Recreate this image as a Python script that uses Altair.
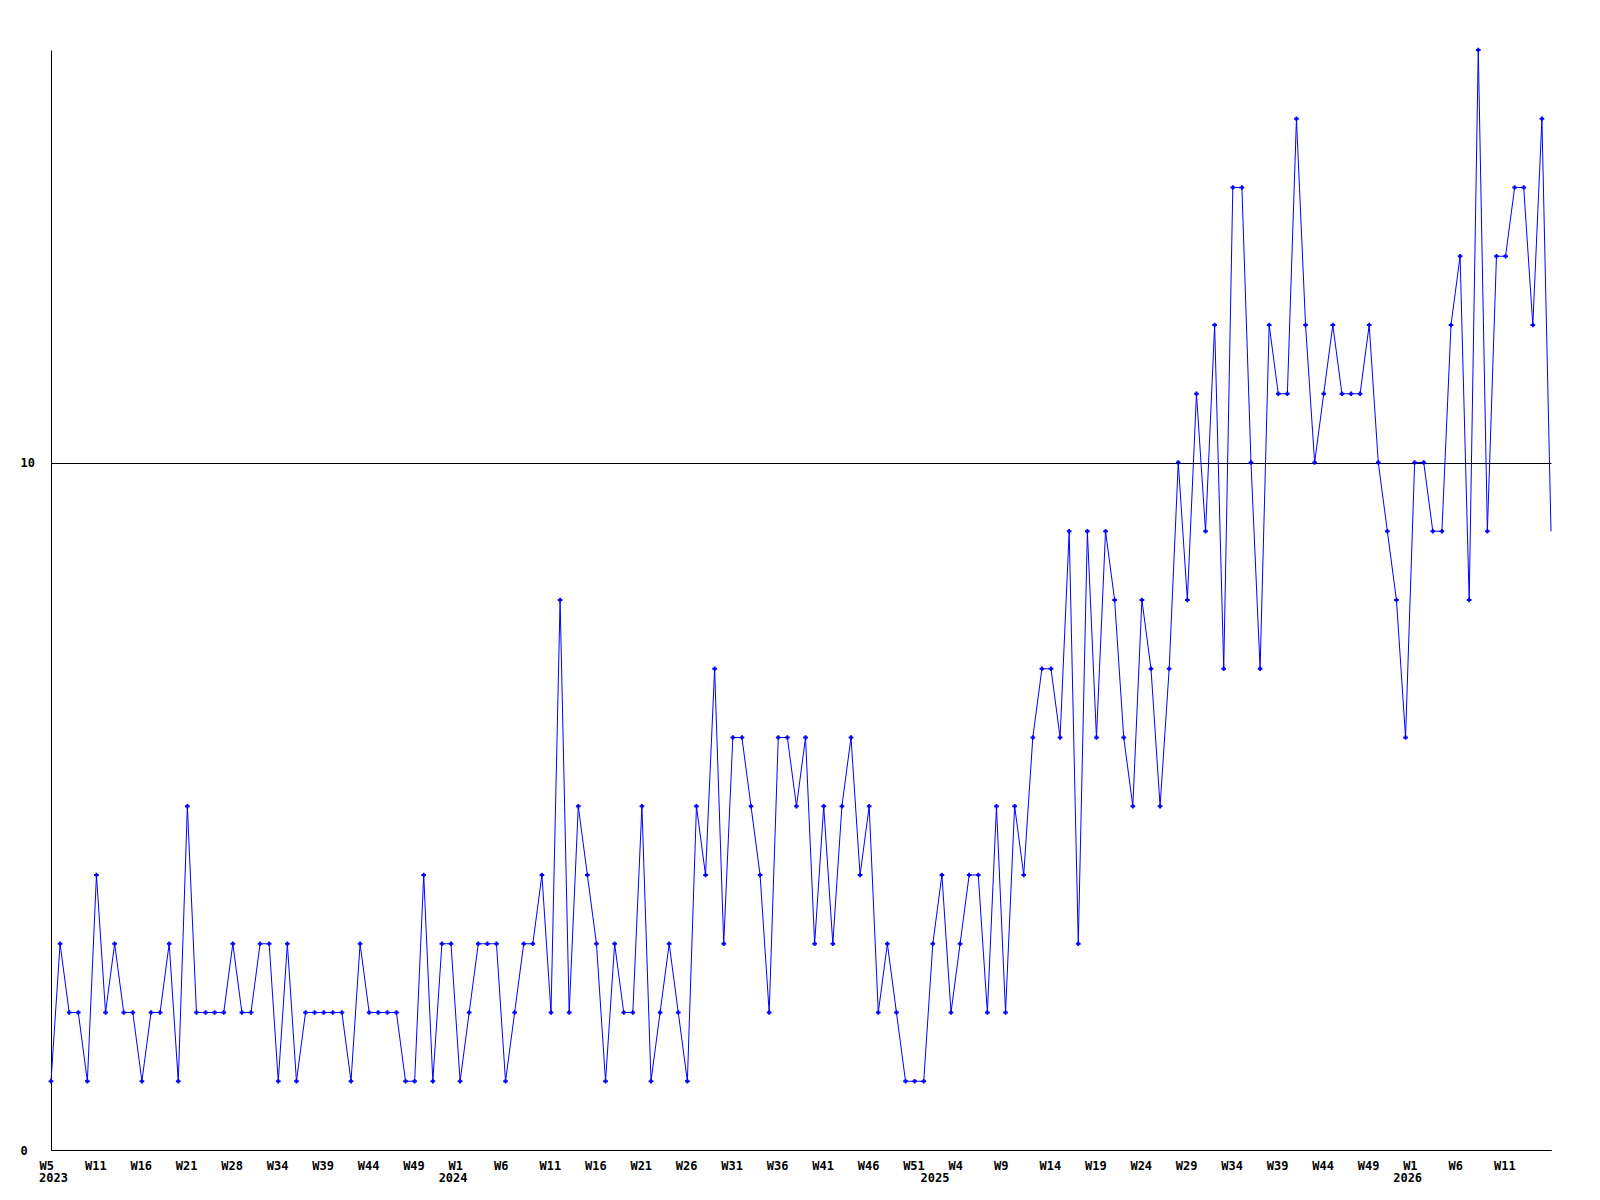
import json
import altair as alt
import pandas as pd

# weekly values, 2023 W5 ... 2026 (166 points)
values = [
    1, 3, 2, 2, 1, 4, 2, 3, 2, 2,
    1, 2, 2, 3, 1, 5, 2, 2, 2, 2,
    3, 2, 2, 3, 3, 1, 3, 1, 2, 2,
    2, 2, 2, 1, 3, 2, 2, 2, 2, 1,
    1, 4, 1, 3, 3, 1, 2, 3, 3, 3,
    1, 2, 3, 3, 4, 2, 8, 2, 5, 4,
    3, 1, 3, 2, 2, 5, 1, 2, 3, 2,
    1, 5, 4, 7, 3, 6, 6, 5, 4, 2,
    6, 6, 5, 6, 3, 5, 3, 5, 6, 4,
    5, 2, 3, 2, 1, 1, 1, 3, 4, 2,
    3, 4, 4, 2, 5, 2, 5, 4, 6, 7,
    7, 6, 9, 3, 9, 6, 9, 8, 6, 5,
    8, 7, 5, 7, 10, 8, 11, 9, 12, 7,
    14, 14, 10, 7, 12, 11, 11, 15, 12, 10,
    11, 12, 11, 11, 11, 12, 10, 9, 8, 6,
    10, 10, 9, 9, 12, 13, 8, 16, 9, 13,
    13, 14, 14, 12, 15, 9,
]

# labels shown under every 5th point
tick_labels = ["W5", "W11", "W16", "W21", "W28", "W34", "W39", "W44", "W49",
               "W1", "W6", "W11", "W16", "W21", "W26", "W31", "W36", "W41",
               "W46", "W51", "W4", "W9", "W14", "W19", "W24", "W29", "W34",
               "W39", "W44", "W49", "W1", "W6", "W11"]
tick_step = 5

years = ["2023", "2024", "2025", "2026"]
year_index = [0, 45, 98, 150]

y_ticks = [0, 10]

df = pd.DataFrame({"i": list(range(len(values))), "v": values})
ydf = pd.DataFrame({"i": year_index, "year": years})

FONT = "DejaVu Sans Mono"
BLUE = "#0000FF"
n = len(values)

label_expr = json.dumps(tick_labels) + f"[round(datum.value/{tick_step})]"

x_enc = alt.X(
    "i:Q",
    scale=alt.Scale(domain=[0, n - 1], nice=False, zero=False),
    axis=alt.Axis(
        values=list(range(0, tick_step * len(tick_labels), tick_step)),
        labelExpr=label_expr,
        ticks=False, tickSize=0, grid=False,
        labelAlign="left", labelOffset=-12, labelPadding=10, labelBaseline="top",
        labelFlush=False, labelOverlap=False,
        labelFont=FONT, labelFontWeight="bold", labelFontSize=12, labelColor="black",
        domainColor="black", domainWidth=1, title=None,
    ),
)
y_enc = alt.Y(
    "v:Q",
    scale=alt.Scale(domain=[0, 16], nice=False, zero=True),
    axis=alt.Axis(
        values=y_ticks, format="d", grid=True, gridColor="black", gridOpacity=1, gridWidth=1,
        ticks=False, tickSize=0, labelAlign="left", labelPadding=31,
        labelFont=FONT, labelFontWeight="bold", labelFontSize=12, labelColor="black",
        domainColor="black", domainWidth=1, title=None,
    ),
)

base = alt.Chart(df)
line = base.mark_line(color=BLUE, strokeWidth=1).encode(x=x_enc, y=y_enc)
pts = base.mark_point(shape="cross", filled=True, size=22, color=BLUE, opacity=1).encode(
    x=alt.X("i:Q"), y=alt.Y("v:Q")
).transform_filter(f"datum.i < {n - 1}")

yr_first = alt.Chart(ydf).transform_filter("datum.i == 0").mark_text(
    font=FONT, fontWeight="bold", fontSize=12, color="black",
    align="left", baseline="top", dx=-12
).encode(x=alt.X("i:Q"), y=alt.value(1123), text="year:N")
yr_rest = alt.Chart(ydf).transform_filter("datum.i > 0").mark_text(
    font=FONT, fontWeight="bold", fontSize=12, color="black",
    align="center", baseline="top", dx=-7
).encode(x=alt.X("i:Q"), y=alt.value(1123), text="year:N")

chart = alt.layer(line, pts, yr_first, yr_rest).properties(
    width=1500, height=1100,
    autosize=alt.AutoSizeParams(type="none"),
    padding={"left": 43, "top": 42, "right": 41, "bottom": 42},
    background="white",
).configure_view(stroke=None)

chart.save("out.html", embed_options={"renderer": "svg", "actions": False})
